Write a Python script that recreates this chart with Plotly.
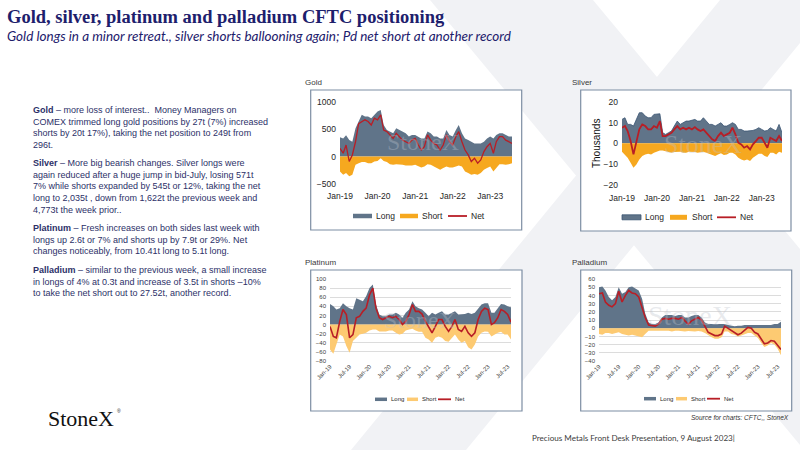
import plotly.graph_objects as go
import pandas as pd

W, H = 800, 450

# ---------------- data (monthly readings, Jan-2019 .. Aug-2023) ----------------
dates = pd.date_range("2019-01-01", "2023-08-01", freq="MS").strftime("%Y-%m-%d").tolist()

gold_long = [350, 330, 390, 300, 270, 515, 640, 760, 730, 730, 700, 760,
             820, 850, 575, 485, 455, 425, 515, 485, 455, 425, 365, 395,
             395, 365, 330, 330, 455, 425, 365, 365, 330, 330, 485, 395,
             365, 485, 575, 425, 330, 300, 270, 240, 240, 240, 270, 330,
             365, 330, 395, 425, 425, 395, 365, 365]
gold_short = [-270, -330, -300, -360, -330, -150, -120, -100, -100, -120, -120, -90,
              -80, -30, -80, -100, -140, -150, -140, -140, -150, -165, -165, -165,
              -150, -180, -200, -180, -140, -150, -180, -210, -240, -210, -180, -200,
              -200, -180, -165, -180, -270, -300, -330, -320, -330, -300, -240, -210,
              -180, -270, -200, -140, -140, -150, -140, -120]
gold_net = [150, 60, 210, -90, 30, 270, 600, 640, 670, 640, 575, 700,
            670, 760, 485, 455, 395, 330, 425, 365, 300, 270, 240, 300,
            330, 210, 120, 180, 395, 300, 240, 210, 120, 210, 395, 270,
            210, 365, 455, 270, 120, 30, -90, -30, -120, -60, 90, 180,
            240, 60, 270, 365, 365, 300, 270, 240]

silver_long = [11.5, 12.3, 9.1, 9.1, 8.3, 11.5, 14.7, 14.7, 13.1, 12.3, 12.3, 13.9,
               13.9, 14.2, 5.1, 4.3, 5.1, 5.9, 8.3, 10.7, 9.1, 9.9, 10.7, 10.7,
               11.0, 11.5, 10.7, 10.7, 12.3, 10.7, 9.1, 9.1, 8.3, 9.1, 9.9, 8.3,
               8.3, 9.1, 9.9, 9.1, 6.7, 6.7, 5.9, 5.9, 5.9, 6.2, 6.7, 7.5,
               6.7, 5.9, 6.2, 7.5, 6.7, 5.9, 9.1, 5.1]
silver_short = [-4.0, -5.3, -6.9, -9.3, -11.7, -10.1, -7.7, -6.1, -5.3, -5.0, -5.3, -4.5,
                -4.0, -3.4, -3.4, -3.7, -4.0, -4.5, -4.2, -4.0, -4.0, -4.5, -4.5, -4.0,
                -4.0, -4.2, -4.5, -4.2, -4.0, -4.5, -5.0, -5.6, -6.1, -5.3, -4.8, -5.6,
                -5.3, -4.5, -4.5, -5.3, -6.9, -7.7, -8.2, -7.7, -8.5, -6.9, -6.1, -5.0,
                -5.0, -6.1, -6.6, -4.5, -4.5, -5.3, -4.0, -4.5]
silver_net = [7.5, 8.3, 5.9, 1.1, -5.3, 1.1, 6.7, 9.1, 8.3, 6.7, 6.7, 8.3,
              7.5, 10.7, 3.5, 3.5, 4.3, 5.1, 6.7, 8.3, 6.7, 7.5, 6.7, 7.5,
              6.7, 7.8, 6.7, 5.9, 6.7, 5.1, 3.5, 1.9, 1.1, 3.5, 5.1, 3.5,
              4.3, 5.1, 7.5, 4.3, 0.3, -0.5, -2.1, -1.3, -2.9, -0.5, 1.1, 2.7,
              2.7, 0.3, -2.1, 2.7, 1.9, 1.1, 3.5, 1.1]

plat_long = [45, 40, 33, 36, 47, 40, 36, 33, 58, 55, 51, 62,
             80, 88, 44, 22, 18, 18, 22, 22, 26, 22, 15, 26,
             33, 51, 40, 36, 33, 26, 18, 26, 22, 26, 29, 22,
             22, 26, 29, 22, 23, 23, 26, 23, 26, 36, 44, 47,
             47, 26, 26, 36, 45, 44, 40, 38]
plat_short = [-55, -64, -44, -22, -26, -47, -62, -36, -29, -22, -20, -18,
              -13, -11, -11, -15, -15, -15, -13, -13, -18, -22, -20, -13,
              -11, -9, -13, -16, -16, -29, -33, -40, -29, -26, -29, -36,
              -38, -29, -22, -33, -40, -36, -50, -55, -44, -26, -18, -15,
              -16, -26, -22, -18, -16, -22, -22, -33]
plat_net = [-4, -26, -29, 7, 33, 22, -29, -22, 15, 18, 29, 36,
            65, 80, 36, 15, 11, 15, 18, 15, 18, 11, 0, 7,
            22, 44, 29, 29, 23, 7, -4, -18, -4, 11, 11, -4,
            -15, -4, 11, -11, -15, -4, -18, -26, -18, 11, 29, 36,
            33, 0, 4, 15, 33, 29, 22, 5]

pall_long = [50, 51, 46, 38, 34, 38, 50, 42, 44, 50, 51, 48,
             46, 36, 18, 7, 5, 5, 7, 13, 16, 16, 16, 15,
             16, 16, 13, 13, 15, 16, 16, 13, 7, 5, 5, 5,
             5, 5, 5, 4, 3, 2.5, 3, 3, 4, 4, 4, 4,
             4, 4, 4, 4, 4, 5, 5, 8]
pall_short = [-7, -8, -6, -6, -7, -6, -5, -7, -8, -9, -8, -9,
              -10, -11, -7, -3, -3, -3, -3, -3, -3, -3, -4, -3,
              -3, -3.5, -4, -3.5, -4, -4, -3.5, -4, -6, -9, -11, -13,
              -13, -11, -4, -4, -7, -8, -10, -9, -7, -6, -6, -9,
              -12, -18, -23, -21, -18, -20, -25, -33]
pall_net = [42, 43, 32, 28, 26, 30, 45, 32, 40, 46, 43, 42,
            38, 24, 13, 4, 3, 2.5, 5, 11, 12, 11, 12, 12,
            11, 13, 9, 5, 9, 11, 13, 10, 3, -5, -7, -9,
            -9, -7, 2.5, 0, -3, -5, -8, -6, -3, 1, 0, -5,
            -7, -13, -19, -18, -15, -16, -21, -26]

series_names = ["Long", "Short", "Net"]

title_text = "Gold, silver, platinum and palladium CFTC positioning"
subtitle_text = "Gold longs in a minor retreat., silver shorts ballooning again; Pd net short at another record"

paragraphs = [
    ["<b>Gold</b> – more loss of interest..  Money Managers on",
     "COMEX trimmed long gold positions by 27t (7%) increased",
     "shorts by 20t 17%), taking the net position to 249t from",
     "296t."],
    ["<b>Silver</b> – More big bearish changes. Silver longs were",
     "again reduced after a huge jump in bid-July, losing 571t",
     "7% while shorts expanded by 545t or 12%, taking the net",
     "long to 2,035t , down from 1,622t the previous week and",
     "4,773t the week prior.."],
    ["<b>Platinum</b> – Fresh increases on both sides last week with",
     "longs up 2.6t or 7% and shorts up by 7.9t or 29%. Net",
     "changes noticeably, from 10.41t long to 5.1t long."],
    ["<b>Palladium</b> – similar to the previous week, a small increase",
     "in longs of 4% at 0.3t and increase of 3.5t in shorts –10%",
     "to take the net short out to 27.52t, another record."],
]

# ---------------- styling ----------------
SANS = "Liberation Sans"
SERIF = "Liberation Serif"
NAVY = "#1d206c"
TEXTBLUE = "#2c3068"
LONG_C = "#607489"
SHORT_DARK = "#f6a81f"
SHORT_LIGHT = "#fdca72"
NET_C = "#b81e26"


def fx(x):
    return x / W


def fy(y):
    return 1 - y / H


fig = go.Figure()

charts = [
    # suffix, long, short, net, short colour, net width, long outline width
    ("", gold_long, gold_short, gold_net, SHORT_DARK, 1.3, 0),
    ("2", silver_long, silver_short, silver_net, SHORT_DARK, 1.8, 0.8),
    ("3", plat_long, plat_short, plat_net, SHORT_LIGHT, 1.6, 0),
    ("4", pall_long, pall_short, pall_net, SHORT_LIGHT, 1.6, 0),
]

for suf, lo, sh, ne, shc, nw, llw in charts:
    xa, ya = "x" + suf, "y" + suf
    fig.add_trace(go.Scatter(x=dates, y=lo, name=series_names[0], xaxis=xa, yaxis=ya,
                             mode="lines", fill="tozeroy", fillcolor=LONG_C,
                             line=dict(width=llw, color="#3a5472"), showlegend=False))
    fig.add_trace(go.Scatter(x=dates, y=sh, name=series_names[1], xaxis=xa, yaxis=ya,
                             mode="lines", fill="tozeroy", fillcolor=shc,
                             line=dict(width=0, color=shc), showlegend=False))
    fig.add_trace(go.Scatter(x=dates, y=ne, name=series_names[2], xaxis=xa, yaxis=ya,
                             mode="lines", line=dict(width=nw, color=NET_C),
                             showlegend=False))

xr = [dates[0], dates[-1]]

big_tick = dict(family=SANS, size=8.5, color="#262626")
small_tick = dict(family=SANS, size=6, color="#404040")

common_x = dict(type="date", range=xr, showgrid=False, zeroline=False, showline=False,
                ticks="", fixedrange=True, automargin=False)
common_y = dict(showgrid=False, zeroline=False, showline=False, ticks="", fixedrange=True,
                automargin=False)

layout = dict(
    width=W, height=H, margin=dict(l=0, r=0, t=0, b=0, pad=0, autoexpand=False),
    paper_bgcolor="white", plot_bgcolor="rgba(0,0,0,0)",
    showlegend=False,
    font=dict(family=SANS),
    # gold
    xaxis=dict(common_x, domain=[fx(340), fx(512)], anchor="y", tickformat="%b-%y",
               dtick="M12", tick0="2019-01-01", tickfont=big_tick, ticklabelstandoff=5),
    yaxis=dict(common_y, domain=[fy(184), fy(101.7)], anchor="x", range=[-500, 1000],
               dtick=500, tickfont=big_tick, ticklabelstandoff=3),
    # silver
    xaxis2=dict(common_x, domain=[fx(622), fx(782)], anchor="y2", tickformat="%b-%y",
                dtick="M12", tick0="2019-01-01", tickfont=big_tick, ticklabelstandoff=6),
    yaxis2=dict(common_y, domain=[fy(185), fy(101.7)], anchor="x2", range=[-20, 20],
                dtick=10, tickfont=big_tick, ticklabelstandoff=3,
                title=dict(text="Thousands", font=dict(family=SANS, size=10, color="#111"),
                           standoff=1)),
    # platinum
    xaxis3=dict(common_x, domain=[fx(330), fx(511)], anchor="y3", tickformat="%b-%y",
                dtick="M6", tick0="2019-01-01", tickangle=-45, tickfont=small_tick),
    yaxis3=dict(common_y, domain=[fy(361), fy(279)], anchor="x3", range=[-80, 100],
                dtick=20, showgrid=True, gridcolor="#dcdcdc", gridwidth=0.8,
                tickfont=small_tick, ticklabelstandoff=3),
    # palladium
    xaxis4=dict(common_x, domain=[fx(599), fx(781)], anchor="y4", tickformat="%b-%y",
                dtick="M6", tick0="2019-01-01", tickangle=-45, tickfont=small_tick),
    yaxis4=dict(common_y, domain=[fy(361), fy(279)], anchor="x4", range=[-40, 60],
                dtick=10, showgrid=True, gridcolor="#dcdcdc", gridwidth=0.8,
                tickfont=small_tick, ticklabelstandoff=3),
)
fig.update_layout(**layout)

# ---------------- background watermark (StoneX X mark) + chart frames ----------------
WM = "#f1f2f5"
shapes = [
    dict(type="path", xref="paper", yref="paper", layer="below", line=dict(width=0),
         fillcolor=WM,
         path=f"M {fx(430)} {fy(0)} L {fx(593)} {fy(0)} L {fx(800)} {fy(249)} "
              f"L {fx(800)} {fy(445)} Z"),
    dict(type="path", xref="paper", yref="paper", layer="below", line=dict(width=0),
         fillcolor=WM,
         path=f"M {fx(720)} {fy(0)} L {fx(800)} {fy(0)} L {fx(800)} {fy(43)} "
              f"L {fx(466)} {fy(450)} L {fx(351)} {fy(450)} Z"),
]
frames = [(310.7, 90, 521.7, 230), (580.7, 90, 791, 231),
          (310.7, 270, 522, 411), (580.7, 270, 791.7, 411)]
for x0, y0, x1, y1 in frames:
    shapes.append(dict(type="rect", xref="paper", yref="paper", layer="below",
                       x0=fx(x0), x1=fx(x1), y0=fy(y1), y1=fy(y0),
                       line=dict(color="#7d8ea3", width=1.2), fillcolor="white"))

ann = []

# ---------------- legends (one per chart) ----------------
legend_specs = [
    # y centre, swatch height, font size, short colour, items: (swatch x0, swatch x1, text x)
    (216, 4.5, 8.5, SHORT_DARK, [(353, 372, 374), (400, 418, 420), (448, 467, 469)]),
    (217.3, 5, 8.5, SHORT_DARK, [(622, 641, 643), (670, 687, 690), (717, 736, 738)]),
    (399.3, 3.5, 6, SHORT_LIGHT, [(375, 387, 388.5), (407, 418, 419.5), (438, 451, 452.5)]),
    (398.7, 3.5, 6, SHORT_LIGHT, [(644, 656, 658), (676, 687, 689), (707, 720, 722)]),
]
for i, (yc, sh_h, fsz, shc, items) in enumerate(legend_specs):
    cols = [LONG_C, shc, NET_C]
    for j, ((x0, x1, tx), name) in enumerate(zip(items, series_names)):
        hh = sh_h / 2 if j < 2 else 0.9
        shapes.append(dict(type="rect", xref="paper", yref="paper",
                           x0=fx(x0), x1=fx(x1), y0=fy(yc + hh), y1=fy(yc - hh),
                           line=dict(width=0.8 if (i == 1 and j == 0) else 0,
                                     color="#3a5472"),
                           fillcolor=cols[j]))
        ann.append(dict(text=name, x=fx(tx), y=fy(yc), xanchor="left", yanchor="middle",
                        font=dict(family=SANS, size=fsz, color="#262626")))

fig.update_layout(shapes=shapes)

# ---------------- texts ----------------
ann.append(dict(text=f"<b>{title_text}</b>", x=fx(5), y=fy(17), xanchor="left",
                yanchor="middle", font=dict(family=SERIF, size=18.5, color=NAVY)))
ann.append(dict(text=f"<i>{subtitle_text}</i>", x=fx(5), y=fy(36), xanchor="left",
                yanchor="middle", font=dict(family="Lato", size=13.5, color=NAVY)))

para_tops = [110, 163.3, 228, 270]
for lines, yc in zip(paragraphs, para_tops):
    ann.append(dict(text="<br>".join(lines), x=fx(32), y=fy(yc - 6.5), xanchor="left",
                    yanchor="top", align="left", borderpad=0,
                    font=dict(family=SANS, size=9, color=TEXTBLUE)))

for label, x, y in [("Gold", 303, 82), ("Silver", 570, 82),
                    ("Platinum", 303, 262), ("Palladium", 570, 262)]:
    ann.append(dict(text=label, x=fx(x), y=fy(y), xanchor="left", yanchor="middle",
                    font=dict(family=SANS, size=8, color="#3a3a3a")))

# faint StoneX watermark inside each chart
for x, y, s in [(423, 142, 24), (703, 145, 26), (420, 320, 24), (690, 315, 28)]:
    ann.append(dict(text="StoneX", x=fx(x), y=fy(y), xanchor="center", yanchor="middle",
                    font=dict(family=SERIF, size=s, color="rgba(190,195,205,0.35)")))

ann.append(dict(text="StoneX", x=fx(46), y=fy(418), xanchor="left",
                yanchor="middle", font=dict(family=SERIF, size=22, color="#111111")))
ann.append(dict(text="®", x=fx(115), y=fy(411), xanchor="left",
                yanchor="middle", font=dict(family=SANS, size=5, color="#1a1a1a")))
ann.append(dict(text="<i>Source for charts: CFTC,, StoneX</i>", x=fx(791), y=fy(417.7),
                xanchor="right", yanchor="middle",
                font=dict(family=SANS, size=6.5, color="#333")))
ann.append(dict(text="Precious Metals Front Desk Presentation, 9 August 2023|", x=fx(530),
                y=fy(438), xanchor="left", yanchor="middle",
                font=dict(family="Lato", size=8.1, color="#404040")))

for a in ann:
    a.setdefault("xref", "paper")
    a.setdefault("yref", "paper")
    a.setdefault("showarrow", False)
fig.update_layout(annotations=ann)

fig.write_html("out.html", config={"displayModeBar": False},
               post_script="document.body.style.margin='0';document.body.style.overflow='hidden';")
